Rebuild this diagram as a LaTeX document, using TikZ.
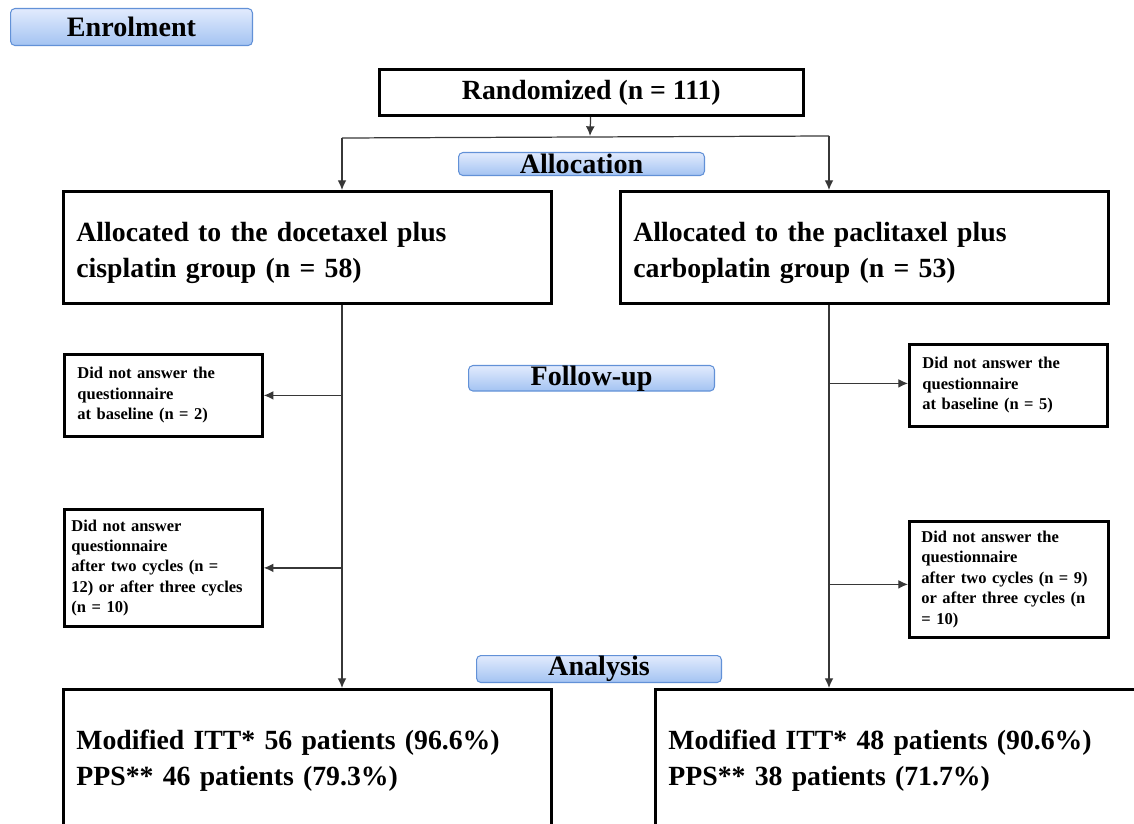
\documentclass[tikz,border=0pt]{standalone}
\usepackage{fontspec}
\setmainfont{Liberation Serif}
\usetikzlibrary{arrows.meta}
\definecolor{bantop}{RGB}{226,235,253}
\definecolor{banbot}{RGB}{163,195,242}
\definecolor{banline}{RGB}{98,145,215}
\definecolor{linkgray}{RGB}{55,55,55}
\newcommand\topgap{\rule{0pt}{17pt}}

\begin{document}
\begin{tikzpicture}[x=0.02cm, y=-0.02cm, >={Latex[length=5.5pt,width=5pt]},
  banner/.style={draw=banline, line width=0.6pt, rounded corners=2.5pt,
    top color=bantop, bottom color=banbot, anchor=north west, inner sep=0pt,
    font=\fontsize{16}{18}\selectfont\bfseries},
  bigbox/.style={draw, line width=1.6pt, anchor=north west, inner sep=0pt,
    align=left, font=\fontsize{15.8}{20.4}\selectfont\bfseries},
  smallbox/.style={draw, line width=1.6pt, anchor=north west, inner sep=0pt,
    inner xsep=0.26cm, text width=3.44cm, align=left,
    font=\fontsize{9.4}{11.6}\selectfont\bfseries},
  link/.style={linkgray, line width=0.7pt}]
  \useasboundingbox (0,0) rectangle (1134,824);

  % stage banners
  \node[banner, minimum width=4.84cm, minimum height=0.74cm] (enrol) at (10,8) {Enrolment};
  \node[banner, minimum width=4.92cm, minimum height=0.46cm] (alloc) at (458,152) {Allocation};
  \node[banner, minimum width=4.92cm, minimum height=0.50cm] (follow) at (468,365) {Follow-up};
  \node[banner, minimum width=4.90cm, minimum height=0.54cm] (analys) at (476,655) {Analysis};

  % main boxes
  \node[bigbox, minimum width=8.48cm, minimum height=0.92cm] (rand) at (378,68) {Randomized (n = 111)};
  \node[bigbox, text width=9.24cm, inner xsep=0.26cm, minimum height=2.24cm] (docet) at (62,190)
    {\topgap Allocated to the docetaxel plus\\cisplatin group (n = 58)};
  \node[bigbox, text width=9.24cm, inner xsep=0.26cm, minimum height=2.24cm] (pacli) at (619,190)
    {\topgap Allocated to the paclitaxel plus\\carboplatin group (n = 53)};
  \node[bigbox, text width=9.24cm, inner xsep=0.26cm, minimum height=2.84cm] (itt-l) at (62,688)
    {Modified ITT* 56 patients (96.6\%)\\PPS** 46 patients (79.3\%)};
  \node[bigbox, text width=9.48cm, inner xsep=0.26cm, minimum height=2.84cm] (itt-r) at (654,688)
    {Modified ITT* 48 patients (90.6\%)\\PPS** 38 patients (71.7\%)};

  % lost to follow-up
  \node[smallbox, minimum height=1.64cm] (base-l) at (63,353)
    {Did not answer the\\questionnaire\\at baseline (n = 2)};
  \node[smallbox, inner xsep=0.14cm, text width=3.68cm, minimum height=2.34cm] (cyc-l) at (63,508)
    {Did not answer\\questionnaire\\after two cycles (n =\\12) or after three cycles\\(n = 10)};
  \node[smallbox, minimum height=1.64cm] (base-r) at (908,343)
    {Did not answer the\\questionnaire\\at baseline (n = 5)};
  \node[smallbox, text width=3.5cm, inner xsep=0.24cm, minimum height=2.32cm] (cyc-r) at (908,520)
    {Did not answer the\\questionnaire\\after two cycles (n = 9)\\or after three cycles (n\\= 10)};

  % connectors
  \coordinate (split) at (590,136);
  \coordinate (jl) at (342,138);
  \coordinate (jr) at (829,136);
  \draw [->, link] (rand) -- (split);
  \draw [link] (jl) -- (jr);
  \draw [->, link] (jl) -- (jl |- docet.north);
  \draw [->, link] (jr) -- (jr |- pacli.north);
  \draw [->, link] (jl |- docet.south) -- (jl |- itt-l.north);
  \draw [->, link] (jr |- pacli.south) -- (jr |- itt-r.north);
  \draw [->, link] (jl |- base-l.east) -- (base-l.east);
  \draw [->, link] (jl |- cyc-l.east) -- (cyc-l.east);
  \draw [->, link] ([yshift=0.04cm]jr |- base-r.west) -- ([yshift=0.04cm]base-r.west);
  \draw [->, link] ([yshift=-0.1cm]jr |- cyc-r.west) -- ([yshift=-0.1cm]cyc-r.west);
\end{tikzpicture}
\end{document}
